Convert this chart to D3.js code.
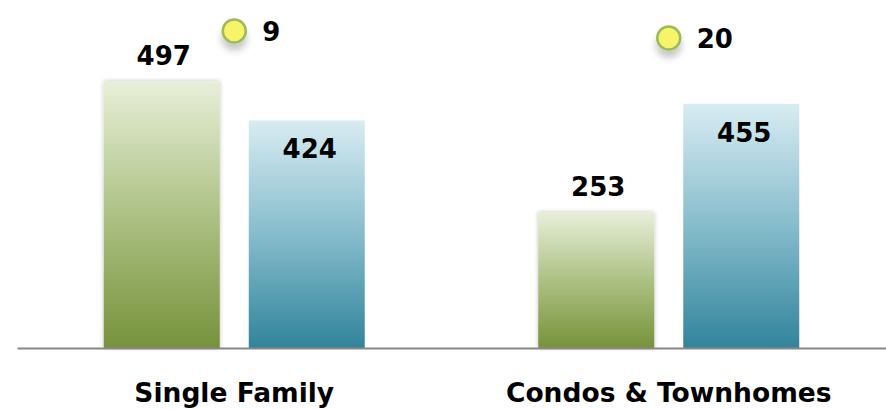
<!DOCTYPE html>
<html><head><meta charset="utf-8">
<script src="https://cdn.jsdelivr.net/npm/d3@7"></script>
<style>body{margin:0;background:#fff}svg{display:block}text{font-family:"DejaVu Sans",Verdana,sans-serif;font-weight:bold;fill:#000}</style>
</head><body><div id="chart"></div>
<script>
const categories = ["Single Family", "Condos & Townhomes"];
const seriesA = [497, 253];   // green bars
const seriesB = [424, 455];   // blue bars
const seriesDots = [9, 20];   // yellow markers

const W = 886, H = 409;
const FS = 26;
const svg = d3.select("#chart").append("svg").attr("width", W).attr("height", H);
const defs = svg.append("defs");

const gG = defs.append("linearGradient").attr("id","gGreen").attr("x1",0).attr("y1",0).attr("x2",0).attr("y2",1);
gG.append("stop").attr("offset","0%").attr("stop-color","#e8efd9");
gG.append("stop").attr("offset","50%").attr("stop-color","#adc184");
gG.append("stop").attr("offset","100%").attr("stop-color","#76923b");
const gB = defs.append("linearGradient").attr("id","gBlue").attr("x1",0).attr("y1",0).attr("x2",0).attr("y2",1);
gB.append("stop").attr("offset","0%").attr("stop-color","#d8ecf2");
gB.append("stop").attr("offset","50%").attr("stop-color","#86bccc");
gB.append("stop").attr("offset","100%").attr("stop-color","#31849b");
const sh = defs.append("filter").attr("id","shadow").attr("x","-20%").attr("y","-20%").attr("width","140%").attr("height","140%");
sh.append("feDropShadow").attr("dx",0).attr("dy",0).attr("stdDeviation",2).attr("flood-color","#000").attr("flood-opacity",0.25);
const dsh = defs.append("filter").attr("id","dshadow").attr("x","-100%").attr("y","-100%").attr("width","300%").attr("height","300%");
dsh.append("feDropShadow").attr("dx",0).attr("dy",7).attr("stdDeviation",3.5).attr("flood-color","#000").attr("flood-opacity",0.22);

const x = d3.scaleBand().domain(categories).range([17, 886]).padding(0);
const inner = d3.scaleBand().domain(["A","B"]).range([x.bandwidth()/2 - 130.5, x.bandwidth()/2 + 130.5]).paddingInner(0.2);
const y = d3.scaleLinear().domain([0, 600]).range([348, 26]);
const y2 = d3.scaleLinear().domain([0, 100]).range([25.3, 89]);

const groups = svg.selectAll("g.cat").data(categories).enter().append("g")
  .attr("transform", d => `translate(${x(d)},0)`);

groups.append("rect")
  .attr("x", inner("A")).attr("width", inner.bandwidth())
  .attr("y", (d,i) => y(seriesA[i])).attr("height", (d,i) => y(0) - y(seriesA[i]))
  .attr("fill","url(#gGreen)").attr("filter","url(#shadow)");
groups.append("rect")
  .attr("x", inner("B")).attr("width", inner.bandwidth())
  .attr("y", (d,i) => y(seriesB[i])).attr("height", (d,i) => y(0) - y(seriesB[i]))
  .attr("fill","url(#gBlue)");

groups.append("text").attr("text-anchor","middle").attr("font-size",FS)
  .attr("x", inner("A") + inner.bandwidth()/2 + 2)
  .attr("y", (d,i) => y(seriesA[i]) - 16)
  .text((d,i) => seriesA[i]);
groups.append("text").attr("text-anchor","middle").attr("font-size",FS)
  .attr("x", inner("B") + inner.bandwidth()/2 + 3)
  .attr("y", (d,i) => y(seriesB[i]) + 38)
  .text((d,i) => seriesB[i]);

// dots
groups.append("circle")
  .attr("cx", x.bandwidth()/2).attr("cy", (d,i) => y2(seriesDots[i])).attr("r", 11.5)
  .attr("fill","#f7f36a").attr("stroke","#9bbb59").attr("stroke-width",2.5)
  .attr("filter","url(#dshadow)");
groups.append("text").attr("font-size",FS)
  .attr("x", x.bandwidth()/2 + 28)
  .attr("y", (d,i) => y2(seriesDots[i]) + 9.5)
  .text((d,i) => seriesDots[i]);

// axis
const ax = svg.append("g").attr("transform", `translate(0,${y(0)})`)
  .call(d3.axisBottom(x).tickSize(0).tickPadding(35));
ax.select(".domain").attr("stroke","#888").attr("stroke-width",2);
ax.selectAll(".tick text").attr("font-size",26.5).attr("font-family","\"DejaVu Sans\",Verdana,sans-serif").attr("font-weight","bold").attr("fill","#000");
</script></body></html>
